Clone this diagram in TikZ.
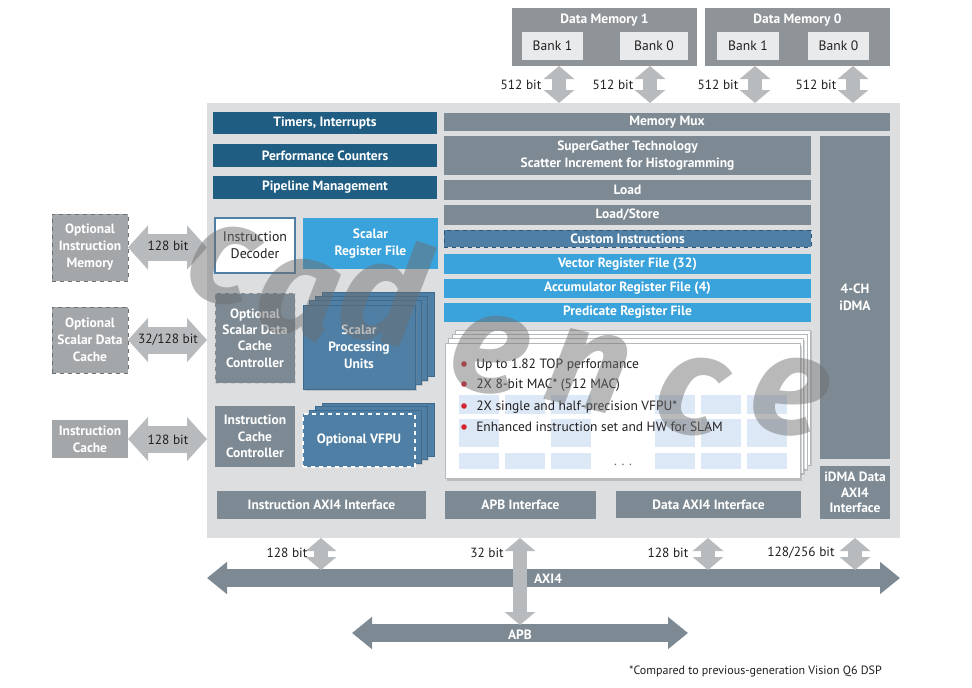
\documentclass[tikz,border=0pt]{standalone}
\usepackage{fontspec}
\setmainfont{PT Sans}
\newfontfamily\wmfont{Fira Sans}
\usetikzlibrary{arrows.meta,shadows,calc}
\definecolor{dblue}{HTML}{1F5D82}
\definecolor{bblue}{HTML}{3BA3DC}
\definecolor{sblue}{HTML}{4F7FA4}
\definecolor{sbluedark}{HTML}{3E6A8E}
\definecolor{sgray}{HTML}{7D8A93}
\definecolor{bg}{HTML}{DCDEE0}
\definecolor{mgray}{HTML}{A4A7AA}
\definecolor{optedge}{HTML}{6B7075}
\definecolor{lightedge}{HTML}{C8CCCE}
\definecolor{dmgray}{HTML}{8F9498}
\definecolor{bankc}{HTML}{E8EAEB}
\definecolor{larrow}{HTML}{B8BBBE}
\definecolor{txt}{HTML}{231F20}
\definecolor{bred}{HTML}{D7232F}
\definecolor{gridblue}{HTML}{DCE8F5}
\definecolor{panedge}{HTML}{B5B9BC}
\definecolor{wmgray}{HTML}{6E6E6E}
\definecolor{custedge}{HTML}{2E5576}
\begin{document}
\begin{tikzpicture}[x=0.75pt,y=-0.75pt,
 bx/.style args={#1/#2/#3/#4}{minimum width={(#3-#1)*0.75pt}, minimum height={(#4-#2)*0.75pt}, at={({(#1+#3)/2},{(#2+#4)/2})}},
 blk/.style={inner sep=0pt, outer sep=0pt, align=center, text=white, font=\bfseries\fontsize{10.1}{12.75}\selectfont},
 darkblk/.style={blk, fill=dblue},
 grayblk/.style={blk, fill=sgray},
 brightblk/.style={blk, fill=bblue},
 steelblk/.style={blk, fill=sblue},
 optblk/.style={blk, fill=mgray, draw=optedge, dashed, line width=0.6pt},
 bankblk/.style={blk, fill=bankc, text=txt, font=\fontsize{10.2}{12}\selectfont},
 memblk/.style={blk, fill=dmgray},
 layer/.style={fill=sblue, draw=sbluedark, line width=0.4pt, drop shadow={shadow xshift=1pt, shadow yshift=-1pt, opacity=0.25}},
 vlayer/.style={fill=white, draw=panedge, line width=0.4pt, drop shadow={shadow xshift=1pt, shadow yshift=-1pt, opacity=0.3}},
 bitlbl/.style={text=txt, inner sep=0pt, font=\fontsize{10}{12}\selectfont},
 bullettxt/.style={text=txt, inner sep=0pt, anchor=west, text height=7.2pt, text depth=2pt, font=\fontsize{10.1}{12}\selectfont},
 bdot/.style={circle, fill=bred, inner sep=0pt, minimum size=4.2pt},
 lightv/.style={draw=larrow, line width=10.5pt, {Triangle[length=9.75pt,width=22.5pt]}-{Triangle[length=9.75pt,width=22.5pt]}},
 lighth/.style={draw=larrow, line width=20.25pt, {Triangle[length=15pt,width=32.25pt]}-{Triangle[length=15pt,width=32.25pt]}},
 busarrow/.style={draw=sgray, line width=13.5pt, {Triangle[length=15pt,width=23.25pt]}-{Triangle[length=15pt,width=23.25pt]}},
 wm/.style={text=wmgray, text opacity=0.48, inner sep=0pt, rotate=-13, font=\wmfont\bfseries\itshape\fontsize{106}{106}\selectfont},
]
\useasboundingbox (0,0) rectangle (972,687);
\fill[white] (0,0) rectangle (972,687);

% main processor box
\node[fill=bg, inner sep=0pt, outer sep=0pt, bx=207/103/900/538] (main) {};

% data memories
\node[memblk, bx=512/8/697/66] (dm1) {};
\node[blk] (dm1t) at ($(dm1.north)+(0,12.5)$) {Data Memory 1};
\node[bankblk, bx=522/32/583/60] (dm1b1) {Bank 1};
\node[bankblk, bx=620/32/688/60] (dm1b0) {Bank 0};
\node[memblk, bx=705/8/890/66] (dm0) {};
\node[blk] (dm0t) at ($(dm0.north)+(0,12.5)$) {Data Memory 0};
\node[bankblk, bx=717/32/779/60] (dm0b1) {Bank 1};
\node[bankblk, bx=808/32/869/60] (dm0b0) {Bank 0};

\coordinate (ta) at (559,0);
\coordinate (tb) at (650,0);
\coordinate (tc) at (755,0);
\coordinate (td) at (853,0);
\draw[lightv] (dm1.south -| ta) -- (main.north -| ta);
\draw[lightv] (dm1.south -| tb) -- (main.north -| tb);
\draw[lightv] (dm0.south -| tc) -- (main.north -| tc);
\draw[lightv] (dm0.south -| td) -- (main.north -| td);
\node[bitlbl] (la) at (521,85) {512 bit};
\node[bitlbl] (lb) at (613,85) {512 bit};
\node[bitlbl] (lc) at (718,85) {512 bit};
\node[bitlbl] (ld) at (816,85) {512 bit};

% left column
\node[darkblk, bx=213/112/437/134] (tim) {Timers, Interrupts};
\node[darkblk, bx=213/144/437/167] (perf) {Performance Counters};
\node[darkblk, bx=213/176/437/199] (pipe) {Pipeline Management};
\node[blk, fill=white, text=txt, font=\fontsize{10.4}{12.75}\selectfont, draw=sblue, line width=0.8pt, bx=215/218/295/273] (idec) {Instruction\\Decoder};
\node[brightblk, bx=303/218/438/269] (srf) {Scalar\\Register File};
\node[grayblk, draw=lightedge, dashed, line width=0.7pt, font=\bfseries\fontsize{10.1}{12.2}\selectfont, bx=215/293/295/383] (sdcc) {Optional\\Scalar Data\\Cache\\Controller};
\node[grayblk, font=\bfseries\fontsize{10.1}{12.4}\selectfont, bx=215/406/295/467] (icc) {Instruction\\Cache\\Controller};

% scalar processing units stack
\foreach \k in {3,2,1}
  \draw[layer] ({303+6.3*\k},{305-4.3*\k}) rectangle ({415+6.3*\k},{389-4.3*\k});
\node[steelblk, draw=sbluedark, line width=0.4pt, drop shadow={shadow xshift=1.5pt, shadow yshift=-1.5pt, opacity=0.3}, bx=303/305/415/389] (spu) {Scalar\\Processing\\Units};

% VFPU stack
\foreach \k in {3,2,1}
  \draw[layer] ({303+6.3*\k},{414-3.7*\k}) rectangle ({415+6.3*\k},{467-3.7*\k});
\node[steelblk, draw=white, dashed, line width=0.8pt, bx=303/414/415/467] (vfpu) {Optional VFPU};

% external left blocks
\node[optblk, bx=52/214/128/281] (oim) {Optional\\Instruction\\Memory};
\node[optblk, bx=52/307/128/373] (osdc) {Optional\\Scalar Data\\Cache};
\node[blk, fill=mgray, bx=52/420/128/458] (ic) {Instruction\\Cache};
\draw[lighth] (oim.east) -- (oim.east -| main.west);
\draw[lighth] (osdc.east) -- (osdc.east -| main.west);
\draw[lighth] (ic.east) -- (ic.east -| main.west);
\node[bitlbl] (l1) at (168,246) {128 bit};
\node[bitlbl] (l2) at (168,340) {32/128 bit};
\node[bitlbl] (l3) at (168,440) {128 bit};

% right column
\node[grayblk, bx=444/113/890/131] (mmux) {Memory Mux};
\node[grayblk, bx=444/136/811/175] (sg) {SuperGather Technology\\Scatter Increment for Histogramming};
\node[grayblk, bx=444/180/811/200] (load) {Load};
\node[grayblk, bx=444/205/811/225] (ls) {Load/Store};
\node[steelblk, draw=custedge, dashed, line width=0.7pt, bx=444/230/811/247] (cust) {Custom Instructions};
\node[brightblk, bx=444/254/811/274] (vrf) {Vector Register File (32)};
\node[brightblk, bx=444/279/811/298] (arf) {Accumulator Register File (4)};
\node[brightblk, bx=444/303/811/322] (prf) {Predicate Register File};
\node[grayblk, bx=820/136/890/459] (idma) {4-CH\\iDMA};
\node[grayblk, font=\bfseries\fontsize{10.1}{11.6}\selectfont, bx=820/466/890/519] (idmaif) {iDMA Data\\AXI4\\Interface};

% vector processing panel stack
\foreach \k in {3,2,1}
  \draw[vlayer] ({445+3.4*\k},{343-4.3*\k}) rectangle ({800+3.4*\k},{478-4.3*\k});
\node[fill=white, draw=panedge, line width=0.4pt, inner sep=0pt, outer sep=0pt, drop shadow={shadow xshift=1.5pt, shadow yshift=-2pt, opacity=0.35}, bx=445/343/800/478] (vpu) {};
\foreach \x in {459,505,551,655,701,747} {
  \fill[gridblue] (\x,395) rectangle ++(40,19);
  \fill[gridblue] (\x,453) rectangle ++(40,16);
}
\foreach \x in {459,551,655,701,747}
  \fill[gridblue] (\x,419) rectangle ++(40,28);
\node[bdot] (d1) at (464,364) {};
\node[bdot] (d2) at (464,384) {};
\node[bdot] (d3) at (464,406) {};
\node[bdot] (d4) at (464,427) {};
\node[bullettxt] (t1) at (476,365) {Up to 1.82 TOP performance};
\node[bullettxt] (t2) at (476,385) {2X 8-bit MAC* (512 MAC)};
\node[bullettxt] (t3) at (476,407) {2X single and half-precision VFPU*};
\node[bullettxt] (t4) at (476,428) {Enhanced instruction set and HW for SLAM};
\node[text=txt!70, inner sep=0pt, font=\fontsize{10}{12}\selectfont] (dots) at (623,465) {.\hspace{3.5pt}.\hspace{3.5pt}.};

% interfaces
\node[grayblk, bx=217/491/426/519] (iaxi) {Instruction AXI4 Interface};
\node[grayblk, bx=445/491/596/519] (apbi) {APB Interface};
\node[grayblk, bx=616/491/801/518] (daxi) {Data AXI4 Interface};

% buses
\coordinate (axL) at (207,578);
\coordinate (axR) at (900,578);
\draw[busarrow] (axL) -- (axR);
\node[blk] (axilbl) at (548,579) {AXI4};
\coordinate (s1) at (321,570);
\coordinate (s3) at (708,570);
\coordinate (s4) at (855,570);
\coordinate (s2) at (520,625);
\draw[lightv] (main.south -| s1) -- (s1);
\draw[lightv] (main.south -| s3) -- (s3);
\draw[lightv] (main.south -| s4) -- (s4);
\coordinate (apL) at (352,633);
\coordinate (apR) at (688,633);
\draw[busarrow] (apL) -- (apR);
\draw[lightv] (main.south -| s2) -- (s2);
\node[blk] (apblbl) at (520,635) {APB};
\node[bitlbl] (b1) at (287,553) {128 bit};
\node[bitlbl] (b2) at (487,553) {32 bit};
\node[bitlbl] (b3) at (668,553) {128 bit};
\node[bitlbl] (b4) at (801,553) {128/256 bit};

% footnote
\node[text=txt, inner sep=0pt, anchor=east, font=\fontsize{9}{11}\selectfont] (foot) at (882,671) {*Compared to previous-generation Vision Q6 DSP};

% watermark
\node[wm] (w1) at (222,264) {c};
\node[wm] (w2) at (298,298) {a};
\node[wm] (w3) at (385,290) {d};
\node[wm] (w4) at (490,354) {e};
\node[wm] (w5) at (588,370) {n};
\node[wm] (w6) at (690,395) {c};
\node[wm] (w7) at (790,396) {e};
\end{tikzpicture}
\end{document}
